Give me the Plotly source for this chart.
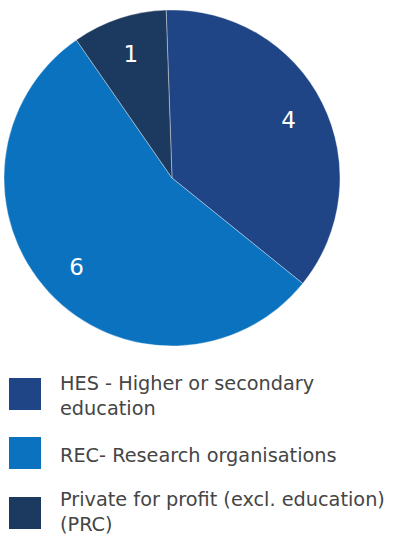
import plotly.graph_objects as go

# Participant counts by organisation type
categories = ["HES - Higher or secondary<br>education",
              "REC- Research organisations",
              "Private for profit (excl. education)<br>(PRC)"]
values = [4, 6, 1]
colors = ["#1f4586", "#0b72bf", "#1c3a5f"]

W, H = 401, 537
pie_domain = dict(x=[4 / W, 340 / W], y=[1 - 346 / H, 1 - 10 / H])
common = dict(labels=categories, values=values, sort=False,
              direction="clockwise", rotation=-2, domain=pie_domain,
              showlegend=False)

fig = go.Figure()

# Filled slices
fig.add_trace(go.Pie(
    **common,
    marker=dict(colors=colors, line=dict(color="rgba(255,255,255,0.6)", width=0.6)),
    textinfo="none",
    hoverinfo="label+value",
))

# Transparent ring on top that carries the value labels near the rim
fig.add_trace(go.Pie(
    **common,
    hole=0.55,
    marker=dict(colors=["rgba(0,0,0,0)"] * len(values), line=dict(width=0)),
    textinfo="value",
    textposition="inside",
    insidetextorientation="horizontal",
    textfont=dict(color="white", size=23, family="DejaVu Sans"),
    hoverinfo="skip",
))

# Custom legend: square swatch + label centred on it
shapes, annotations = [], []
rows_top = [378, 437, 497]
text_shift = [2, 2, -1]
sw = 32
for cat, col, top, dy in zip(categories, colors, rows_top, text_shift):
    shapes.append(dict(type="rect", xref="paper", yref="paper",
                       x0=9 / W, x1=(9 + sw) / W, y0=1 - (top + sw) / H, y1=1 - top / H,
                       fillcolor=col, line=dict(width=0)))
    annotations.append(dict(text=cat, xref="paper", yref="paper",
                            x=58 / W, y=1 - (top + sw / 2 + dy) / H,
                            xanchor="left", yanchor="middle",
                            showarrow=False, align="left",
                            font=dict(size=19.3, color="#454545", family="DejaVu Sans")))

fig.update_layout(
    width=W, height=H,
    margin=dict(l=0, r=0, t=0, b=0),
    paper_bgcolor="white",
    plot_bgcolor="white",
    shapes=shapes,
    annotations=annotations,
)

fig.write_html("out.html")
